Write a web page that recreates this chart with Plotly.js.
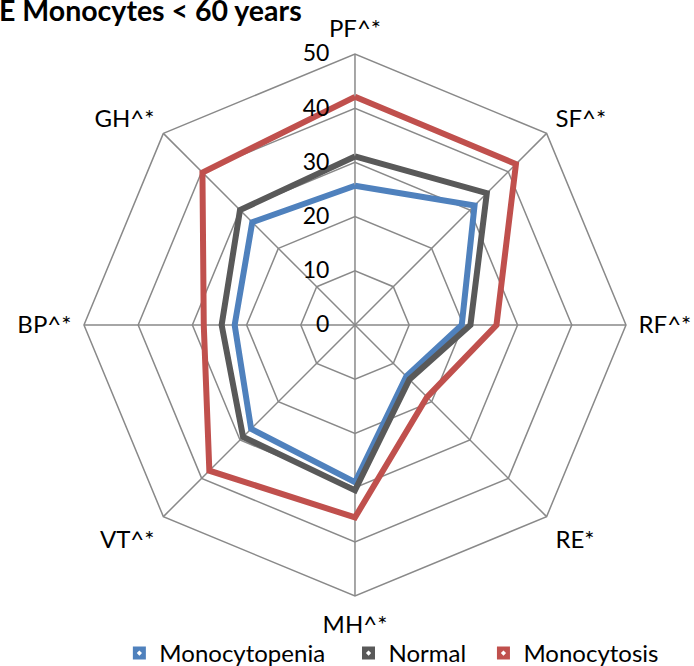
<!DOCTYPE html>
<html><head><meta charset="utf-8">
<script src="https://cdn.plot.ly/plotly-3.0.1.min.js"></script>
<style>html,body{margin:0;padding:0;background:#fff;overflow:hidden}#chart{width:694px;height:676px}</style>
</head><body><div id="chart"></div>
<script>
const categories = ["PF^*", "SF^*", "RF^*", "RE*", "MH^*", "VT^*", "BP^*", "GH^*"];
const seriesNames = ["Monocytopenia", "Normal", "Monocytosis"];
const monocytopenia = [25.7, 31.2, 19.7, 13.4, 29.0, 27.1, 22.2, 26.8];
const normal = [31.1, 34.4, 21.3, 14.2, 30.5, 29.2, 24.6, 30.0];
const monocytosis = [42.1, 42.0, 26.1, 18.8, 35.5, 38.0, 27.9, 39.8];
const radialTicks = [0, 10, 20, 30, 40, 50];
const colors = ["#4F81BD", "#595959", "#C0504D"];

const values = [monocytopenia, normal, monocytosis];
const font = "Lato, 'Open Sans', sans-serif";
const namePad = ["\u00a0\u00a0\u00a0", "\u00a0\u00a0", ""];
const traces = [];
values.forEach((v, i) => {
  traces.push({
    type: "scatterpolar", mode: "lines",
    r: v.concat([v[0]]), theta: categories.concat([categories[0]]),
    line: {color: colors[i], width: 6}, showlegend: false, hoverinfo: "skip"
  });
});
values.forEach((v, i) => {
  traces.push({
    type: "scatter", mode: "markers", x: [null], y: [null],
    name: seriesNames[i] + namePad[i], showlegend: true,
    marker: {symbol: "square-dot", size: 16, color: colors[i], line: {color: "#ffffff", width: 3}}
  });
});

const layout = {
  width: 694, height: 676,
  margin: {l: 0, r: 0, t: 0, b: 0},
  paper_bgcolor: "#ffffff", plot_bgcolor: "rgba(0,0,0,0)",
  showlegend: true,
  font: {family: font, color: "#000", size: 24},
  xaxis: {visible: false, domain: [0, 0.01]},
  yaxis: {visible: false, domain: [0, 0.01]},
  annotations: [{
    text: "<b>E Monocytes < 60 years</b>", xref: "paper", yref: "paper",
    x: -0.005, xanchor: "left", y: 0.9852, yanchor: "middle", showarrow: false,
    font: {family: font, size: 28.5, color: "#000"}
  }],
  legend: {orientation: "h", x: 0.172, xanchor: "left", y: 0, yanchor: "bottom",
           bgcolor: "rgba(0,0,0,0)",
           font: {family: font, size: 24, color: "#000"}, itemwidth: 30, traceorder: "normal"},
  polar: {
    domain: {x: [0.121, 0.902], y: [0.1183, 0.9201]},
    bgcolor: "#ffffff",
    gridshape: "linear",
    angularaxis: {
      direction: "clockwise", rotation: 90, type: "category",
      categoryarray: categories, categoryorder: "array",
      showline: true, linecolor: "#898989", linewidth: 1.5,
      showgrid: true, gridcolor: "#898989", gridwidth: 1.5,
      ticks: "outside", ticklen: 7, tickcolor: "rgba(0,0,0,0)",
      tickfont: {family: font, size: 24, color: "#000"}
    },
    radialaxis: {
      range: [0, 50], tickvals: radialTicks, ticktext: radialTicks.map(String),
      angle: 90, side: "counterclockwise", tickangle: 90,
      showline: false, ticks: "outside", ticklen: 17, tickcolor: "rgba(0,0,0,0)",
      gridcolor: "#898989", gridwidth: 1.5,
      tickfont: {family: font, size: 23, color: "#000"}
    }
  }
};
Plotly.newPlot("chart", traces, layout, {displayModeBar: false, staticPlot: true});
</script></body></html>
